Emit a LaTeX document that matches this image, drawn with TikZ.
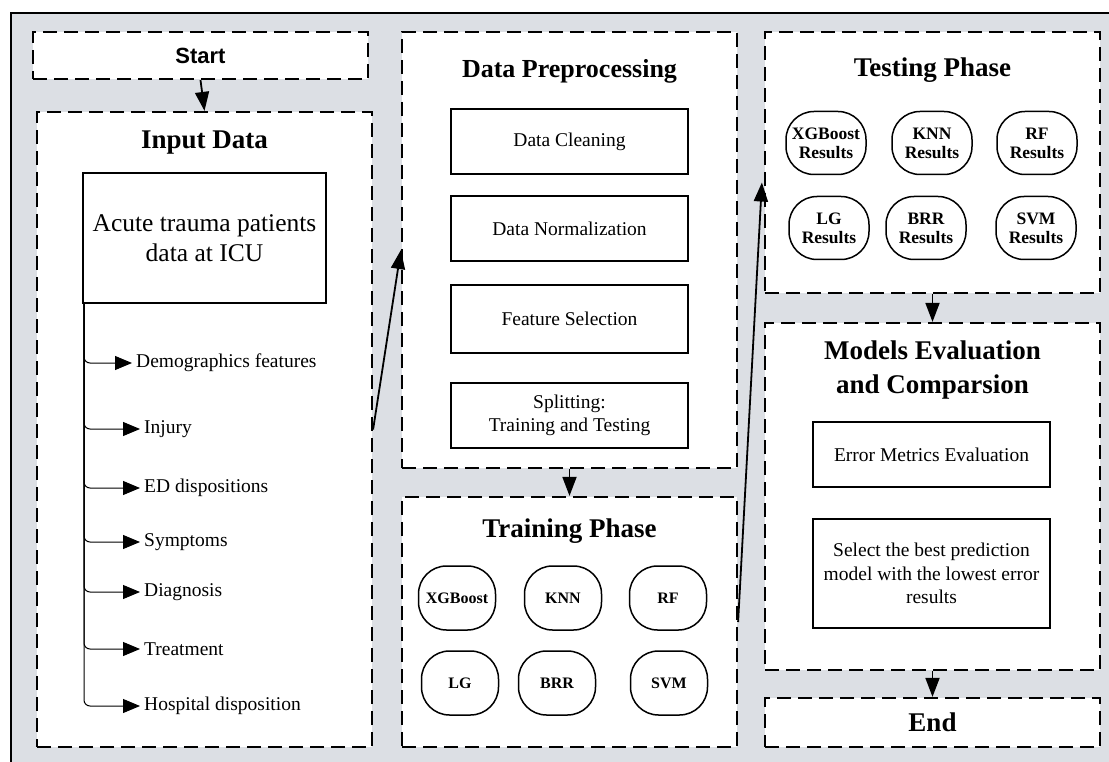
\documentclass[tikz,border=0pt]{standalone}
\usepackage{fontspec}
\setmainfont{Liberation Serif}
\newfontfamily\sansf{Liberation Sans}
\usetikzlibrary{arrows.meta,calc}
\definecolor{bggray}{RGB}{220,223,228}
\tikzset{
 phase/.style={draw=black, fill=white, line width=2.2pt, dash pattern=on 14pt off 7pt, inner sep=0pt},
 ttl/.style={font=\bfseries\fontsize{27}{34}\selectfont, align=center, inner sep=0pt},
 procbox/.style={draw=black, fill=white, line width=1.8pt, minimum width=237pt, align=center, font=\fontsize{19.5}{23.5}\selectfont, inner sep=0pt},
 model/.style={draw=black, line width=1.5pt, rounded corners=28pt, minimum width=77pt, minimum height=64pt, font=\bfseries\fontsize{16}{19}\selectfont, inner sep=0pt, align=center},
 resmodel/.style={model, minimum width=80pt, minimum height=63pt, font=\bfseries\fontsize{17.5}{19}\selectfont},
 flow/.style={line width=1.8pt, -{Triangle[length=19pt,width=14pt]}},
 branch/.style={line width=1pt, rounded corners=6pt, -{Triangle[length=17pt,width=14pt]}},
 leaf/.style={anchor=west, inner sep=4pt, font=\fontsize{19.5}{23}\selectfont},
}
\begin{document}
\begin{tikzpicture}[x=1pt,y=-1pt]
\useasboundingbox (0,0) rectangle (1109,762);
\clip (0,0) rectangle (1109,762);
% outer frame
\path[fill=bggray] (11,13) rectangle (1125,780);
\draw[line width=2pt] (11,780) -- (11,13) -- (1125,13);

% Start
\node[phase, minimum width=335pt, minimum height=47pt, font=\sansf\bfseries\fontsize{22}{26}\selectfont] (start) at (200.5,55.5) {Start};

% Input data
\node[phase, minimum width=335pt, minimum height=635pt] (input) at (204.5,429.5) {};
\node[ttl] (inputT) at (204.5,143) {Input Data};
\node[draw=black, line width=1.8pt, minimum width=243pt, minimum height=130pt, align=center, inner sep=0pt, font=\fontsize{25.5}{30}\selectfont] (acute) at (204.5,238) {Acute trauma patients\\data at ICU};
\coordinate (tr) at (84,303);
\node[leaf] (l1) at (132,363) {Demographics features};
\node[leaf] (l2) at (140,429) {Injury};
\node[leaf] (l3) at (140,488) {ED dispositions};
\node[leaf] (l4) at (140,542) {Symptoms};
\node[leaf] (l5) at (140,592) {Diagnosis};
\node[leaf] (l6) at (140,649) {Treatment};
\node[leaf] (l7) at (140,706) {Hospital disposition};
\foreach \l in {l1,l2,l3,l4,l5,l6,l7}{
  \draw[branch] (tr) |- (\l.west);
}

% Data preprocessing
\node[phase, minimum width=335pt, minimum height=436pt] (dp) at (569.5,250) {};
\node[ttl, font=\bfseries\fontsize{26}{32}\selectfont] (dpT) at (569.5,71) {Data Preprocessing};
\node[procbox, minimum height=65pt] (clean) at (569.5,141.5) {Data Cleaning};
\node[procbox, minimum height=65pt] (norm) at (569.5,228.5) {Data Normalization};
\node[procbox, minimum height=68pt] (feat) at (569.5,319) {Feature Selection};
\node[procbox, minimum height=65pt] (split) at (569.5,415.5) {Splitting:\\Training and Testing};

% Training phase
\node[phase, minimum width=335pt, minimum height=250pt] (train) at (569.5,622) {};
\node[ttl] (trainT) at (569.5,531) {Training Phase};
\node[model] (m1) at (457,598) {XGBoost};
\node[model] (m2) at (563,598) {KNN};
\node[model] (m3) at (668,598) {RF};
\node[model] (m4) at (460,683) {LG};
\node[model] (m5) at (557,683) {BRR};
\node[model] (m6) at (669,683) {SVM};

% Testing phase
\node[phase, minimum width=335pt, minimum height=261pt] (test) at (932.5,162.5) {};
\node[ttl] (testT) at (932.5,70) {Testing Phase};
\node[resmodel] (r1) at (826,143) {XGBoost\\Results};
\node[resmodel] (r2) at (932,143) {KNN\\Results};
\node[resmodel] (r3) at (1037,143) {RF\\Results};
\node[resmodel] (r4) at (829,228) {LG\\Results};
\node[resmodel] (r5) at (926,228) {BRR\\Results};
\node[resmodel] (r6) at (1036,228) {SVM\\Results};

% Models evaluation
\node[phase, minimum width=335pt, minimum height=347pt] (eval) at (932.5,496.5) {};
\node[ttl] (evalT) at (932.5,370) {Models Evaluation\\and Comparsion};
\node[procbox, minimum height=65pt] (err) at (931.5,454.5) {Error Metrics Evaluation};
\node[procbox, minimum height=109pt] (sel) at (931.5,573.5) {Select the best prediction\\model with the lowest error\\results};

% End
\node[phase, minimum width=335pt, minimum height=49pt, font=\bfseries\fontsize{27}{32}\selectfont] (end) at (932.5,722.5) {End};

% connectors
\draw[flow] (start.south) -- (input.north);
\draw[flow] (input.east) -- (dp.west);
\draw[flow] (dp.south) -- (train.north);
\draw[flow] (train.east) -- ($(test.west)+(-2,20)$);
\draw[flow] (test.south) -- (eval.north);
\draw[flow] (eval.south) -- (end.north);
\end{tikzpicture}
\end{document}
